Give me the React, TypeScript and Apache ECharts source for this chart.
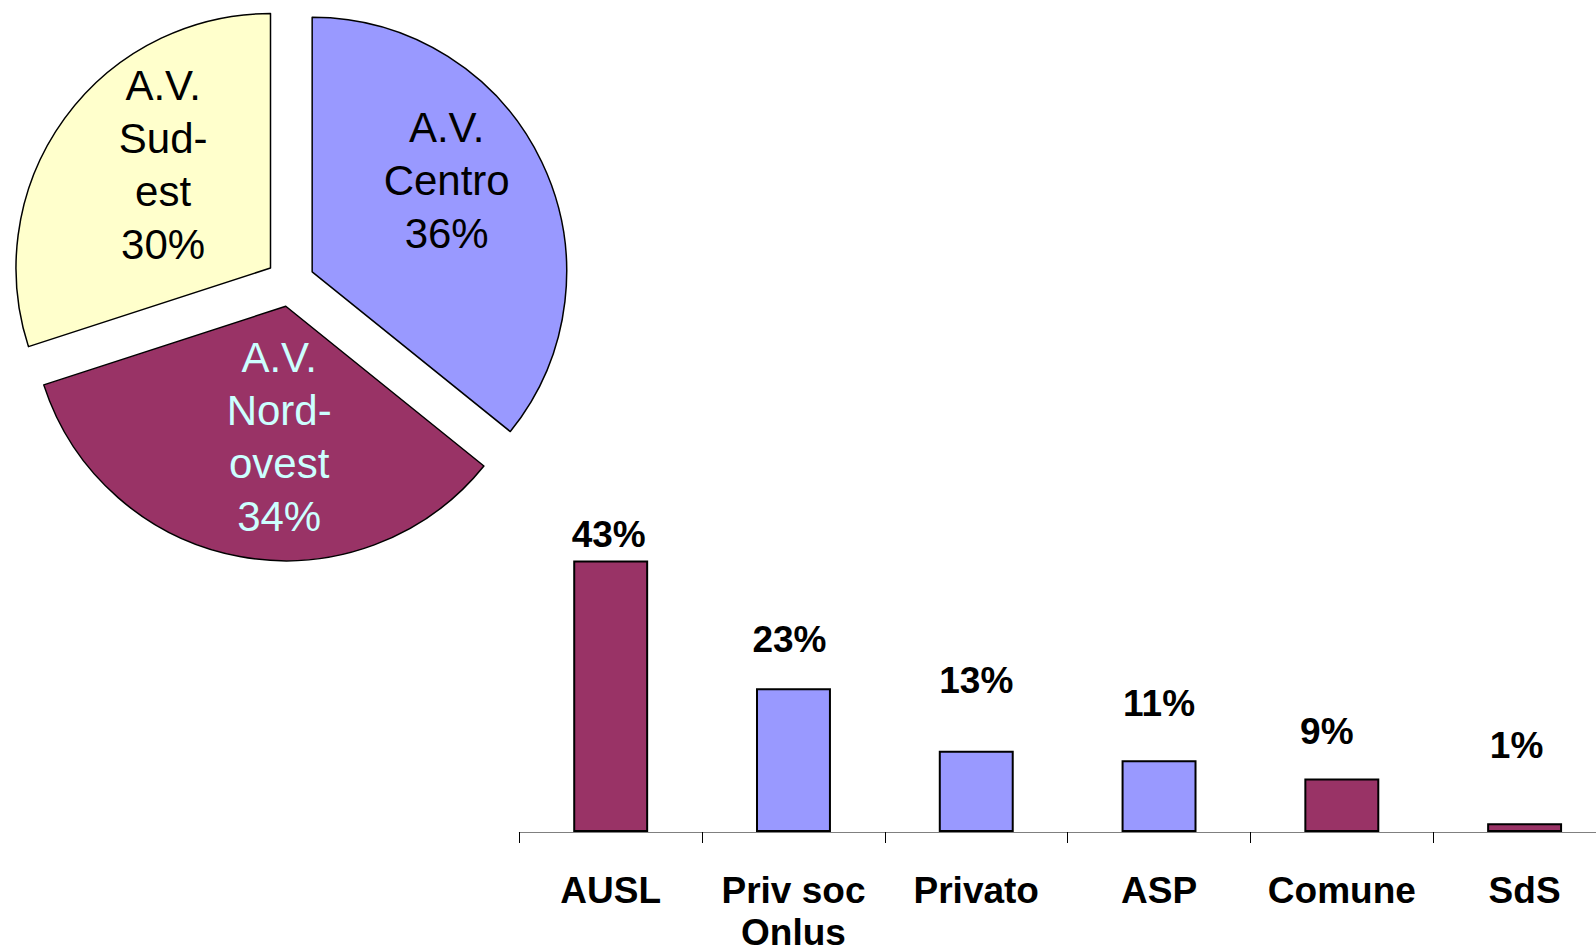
import React, { useEffect, useRef } from 'react';
import * as echarts from 'echarts';

// ---- Data ----
const pieNames: string[] = ['A.V. Centro', 'A.V. Nord-ovest', 'A.V. Sud-est'];
const pieValues: number[] = [35.8, 34.2, 30.0];

const barCategories: string[] = ['AUSL', 'Priv soc\nOnlus', 'Privato', 'ASP', 'Comune', 'SdS'];
const barValues: number[] = [43.1, 22.8, 12.9, 11.4, 8.5, 1.4];

// ---- Styles ----
const FONT = '"Liberation Sans", Arial, Helvetica, sans-serif';
const pieColors = ['#9999FF', '#993366', '#FFFFCC'];
const pieLabelColors = ['#000000', '#CCFFFF', '#000000'];
const pieLabelShift = [
  [17, -35],
  [17, 3],
  [-2, -26],
];
const barColors = ['#993366', '#9999FF', '#9999FF', '#9999FF', '#993366', '#993366'];
const barLabelDistance = [6, 29, 50, 37, 27, 58];
const barLabelShiftX = [-2, -4, 0, 0, -15, -8];

export default function App() {
  const ref = useRef<HTMLDivElement | null>(null);

  useEffect(() => {
    if (!ref.current) return;
    const chart = echarts.init(ref.current, undefined, { renderer: 'svg' });

    const axisFont = { fontSize: 37, fontWeight: 'bold', color: '#000000', fontFamily: FONT };

    const option: any = {
      animation: false,
      backgroundColor: '#ffffff',
      textStyle: { fontFamily: FONT },
      grid: {
        left: 519.3,
        right: -20,
        top: 517,
        bottom: 119,
        containLabel: false,
        outerBoundsMode: 'none',
      },
      xAxis: {
        type: 'category',
        data: barCategories,
        axisLine: { show: true, lineStyle: { color: '#808080', width: 1 } },
        axisTick: { show: true, length: 11, lineStyle: { color: '#000000', width: 1 } },
        axisLabel: {
          interval: 0,
          margin: 33,
          hideOverlap: false,
          ...axisFont,
          formatter: (v: string) => {
            const lines = v.split('\n');
            return lines.map((l, i) => (i === 0 ? `{a|${l}}` : `{b|${l}}`)).join('\n');
          },
          rich: {
            a: { ...axisFont, lineHeight: 50 },
            b: { ...axisFont, lineHeight: 34 },
          },
        },
        splitLine: { show: false },
      },
      yAxis: { type: 'value', min: 0, max: 50, show: false },
      series: [
        {
          type: 'pie',
          center: [290.2, 282.3],
          radius: [0, 254.5],
          startAngle: 90,
          clockwise: true,
          selectedMode: 'multiple',
          selectedOffset: 24.35,
          avoidLabelOverlap: false,
          itemStyle: { borderColor: '#000000', borderWidth: 1.5 },
          select: { itemStyle: { borderColor: '#000000', borderWidth: 1.5 } },
          emphasis: { disabled: true },
          labelLine: { show: false },
          label: {
            show: true,
            position: 'inside',
            fontSize: 42,
            lineHeight: 53,
            fontFamily: FONT,
            align: 'center',
            formatter: (p: any) =>
              p.name.replace(' ', '\n').replace('-', '-\n') + '\n' + Math.round(p.percent) + '%',
          },
          labelLayout: (p: any) => ({
            dx: pieLabelShift[p.dataIndex][0],
            dy: pieLabelShift[p.dataIndex][1],
          }),
          data: pieNames.map((n, i) => ({
            name: n,
            value: pieValues[i],
            selected: true,
            itemStyle: { color: pieColors[i] },
            label: { color: pieLabelColors[i] },
          })),
        },
        {
          type: 'bar',
          barWidth: '41%',
          itemStyle: { borderColor: '#000000', borderWidth: 2 },
          emphasis: { disabled: true },
          label: {
            show: true,
            position: 'top',
            color: '#000000',
            fontSize: 37,
            fontWeight: 'bold',
            lineHeight: 40,
            fontFamily: FONT,
            formatter: (p: any) => Math.round(p.value) + '%',
          },
          data: barValues.map((v, i) => ({
            value: v,
            itemStyle: { color: barColors[i] },
            label: { distance: barLabelDistance[i], offset: [barLabelShiftX[i], 0] },
          })),
        },
      ],
    };

    chart.setOption(option);
    return () => {
      chart.dispose();
    };
  }, []);

  return (
    <div
      ref={ref}
      style={{ position: 'absolute', left: 0, top: 0, width: 1596, height: 951, background: '#fff' }}
    />
  );
}
